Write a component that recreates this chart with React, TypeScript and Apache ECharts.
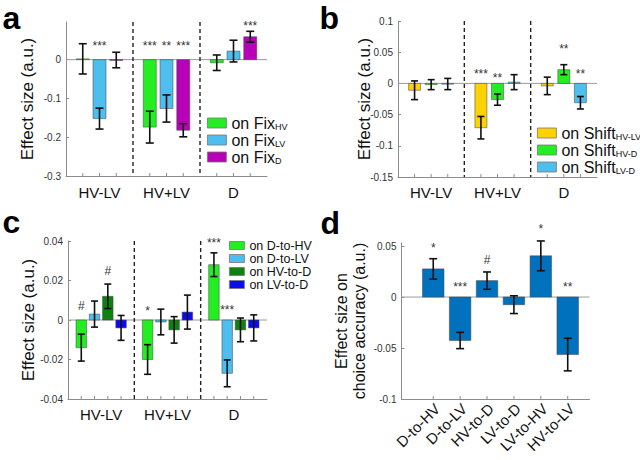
import React, { useEffect, useRef } from 'react';
import * as echarts from 'echarts';

const FONT = '"Liberation Sans", Arial, Helvetica, sans-serif';

const groupLabels = ['HV-LV', 'HV+LV', 'D'];

// ---------- panel a ----------
const yTicksA = [-0.3, -0.2, -0.1, 0];
const yMaxA = 0.097;
const fixHV = [0.002, -0.174, -0.008];
const fixHVErr = [0.039, 0.041, 0.02];
const fixHVStars = ['', '***', ''];
const fixHVStarAt = [0, 0.044, 0];
const fixLV = [-0.152, -0.126, 0.022];
const fixLVErr = [0.027, 0.035, 0.028];
const fixLVStars = ['***', '**', ''];
const fixLVStarAt = [0.044, 0.044, 0];
const fixD = [-0.001, -0.182, 0.059];
const fixDErr = [0.02, 0.017, 0.014];
const fixDStars = ['', '***', '***'];
const fixDStarAt = [0, 0.044, 0.095];

// ---------- panel b ----------
const yTicksB = [-0.15, -0.1, -0.05, 0, 0.05, 0.1];
const shiftHVLV = [-0.011, -0.071, -0.004];
const shiftHVLVErr = [0.015, 0.018, 0.014];
const shiftHVLVStars = ['', '***', ''];
const shiftHVLVStarAt = [0, 0.02, 0];
const shiftHVD = [-0.002, -0.026, 0.022];
const shiftHVDErr = [0.008, 0.009, 0.008];
const shiftHVDStars = ['', '**', '**'];
const shiftHVDStarAt = [0, 0.0135, 0.06];
const shiftLVD = [-0.001, 0.002, -0.031];
const shiftLVDErr = [0.009, 0.012, 0.01];
const shiftLVDStars = ['', '', '**'];
const shiftLVDStarAt = [0, 0, 0.02];

// ---------- panel c ----------
const yTicksC = [-0.04, -0.02, 0, 0.02, 0.04];
const dToHV = [-0.014, -0.02, 0.028];
const dToHVErr = [0.0068, 0.0075, 0.006];
const dToHVStars = ['#', '*', '***'];
const dToHVStarAt = [0.007, 0.0061, 0.0406];
const dToLV = [0.003, -0.001, -0.027];
const dToLVErr = [0.0066, 0.0065, 0.0068];
const dToLVStars = ['', '', '***'];
const dToLVStarAt = [0, 0, 0.0065];
const hvToD = [0.012, -0.005, -0.005];
const hvToDErr = [0.0062, 0.0067, 0.006];
const hvToDStars = ['#', '', ''];
const hvToDStarAt = [0.0248, 0, 0];
const lvToD = [-0.004, 0.004, -0.004];
const lvToDErr = [0.0063, 0.0086, 0.0066];
const lvToDStars = ['', '', ''];
const lvToDStarAt = [0, 0, 0];

// ---------- panel d ----------
const yTicksD = [-0.1, -0.05, 0, 0.05];
const yMaxD = 0.053;
const transLabels = ['D-to-HV', 'D-to-LV', 'HV-to-D', 'LV-to-D', 'LV-to-HV', 'HV-to-LV'];
const accEffect = [0.0276, -0.0426, 0.0161, -0.0075, 0.0404, -0.0564];
const accErr = [0.01, 0.008, 0.0085, 0.0087, 0.0146, 0.016];
const accStars = ['*', '***', '#', '', '*', '**'];
const accStarAt = [0.0509, 0.0132, 0.0368, 0, 0.0696, 0.0132];

const AXIS_COLOR = '#8c8c8c';

const fmtTick = (v: number) => String(parseFloat(v.toFixed(4)));

function yAxis(gridIndex: number, ticks: number[], max: number, name: string, nameGap: number, nameStyle: any = {}) {
  return {
    type: 'value',
    gridIndex,
    min: ticks[0],
    max,
    interval: ticks[1] - ticks[0],
    name,
    nameLocation: 'middle',
    nameGap,
    nameMoveOverlap: false,
    nameTextStyle: { fontSize: 17, color: '#111', fontFamily: FONT, ...nameStyle },
    axisLine: { show: true, onZero: false, lineStyle: { color: AXIS_COLOR, width: 1 } },
    axisTick: { show: true, inside: true, length: 3, lineStyle: { color: AXIS_COLOR } },
    axisLabel: {
      fontSize: 10,
      color: '#333',
      margin: 5,
      showMaxLabel: max === ticks[ticks.length - 1],
      fontFamily: FONT,
      formatter: fmtTick,
    },
    splitLine: { show: false },
  };
}

function valueX(gridIndex: number, min: number, max: number) {
  return {
    type: 'value',
    gridIndex,
    min,
    max,
    position: 'bottom',
    axisLine: { show: true, onZero: false, lineStyle: { color: AXIS_COLOR, width: 1 } },
    axisTick: { show: false },
    axisLabel: { show: false },
    splitLine: { show: false },
  };
}

function catX(gridIndex: number, margin: number) {
  return {
    type: 'category',
    gridIndex,
    data: groupLabels,
    position: 'bottom',
    axisLine: { show: false, onZero: false },
    axisTick: { show: false },
    axisLabel: { fontSize: 15, color: '#111', margin, fontFamily: FONT },
    splitLine: { show: false },
  };
}

type BarCfg = {
  name: string;
  xAxisIndex: number;
  yAxisIndex: number;
  positions: number[];
  values: number[];
  errs: number[];
  stars: string[];
  starAt: number[];
  color: string;
  barW: number;
  capW: number;
  yMin: number;
  xLabels?: string[];
};

function barSeries(c: BarCfg) {
  return {
    type: 'custom',
    name: c.name,
    xAxisIndex: c.xAxisIndex,
    yAxisIndex: c.yAxisIndex,
    itemStyle: { color: c.color },
    z: 3,
    silent: true,
    clip: false,
    data: c.positions.map((p, i) => [p, c.values[i], c.errs[i], c.starAt[i]]),
    renderItem: (params: any, api: any) => {
      const i = params.dataIndex;
      const x = api.value(0);
      const v = api.value(1);
      const e = api.value(2);
      const s = api.value(3);
      const base = api.coord([x, 0]);
      const top = api.coord([x, v]);
      const hi = api.coord([x, v + e]);
      const lo = api.coord([x, v - e]);
      const axisPt = api.coord([x, c.yMin]);
      const children: any[] = [
        {
          type: 'line',
          shape: { x1: axisPt[0], y1: axisPt[1], x2: axisPt[0], y2: axisPt[1] - 3 },
          style: { stroke: AXIS_COLOR, lineWidth: 1 },
        },
        {
          type: 'rect',
          shape: {
            x: base[0] - c.barW / 2,
            y: Math.min(base[1], top[1]),
            width: c.barW,
            height: Math.max(Math.abs(top[1] - base[1]), 0.8),
          },
          style: { fill: c.color, stroke: 'rgba(70,70,70,0.75)', lineWidth: 0.7 },
        },
        {
          type: 'line',
          shape: { x1: hi[0], y1: hi[1], x2: lo[0], y2: lo[1] },
          style: { stroke: '#111', lineWidth: 1.6 },
        },
        {
          type: 'line',
          shape: { x1: hi[0] - c.capW / 2, y1: hi[1], x2: hi[0] + c.capW / 2, y2: hi[1] },
          style: { stroke: '#111', lineWidth: 1.6 },
        },
        {
          type: 'line',
          shape: { x1: lo[0] - c.capW / 2, y1: lo[1], x2: lo[0] + c.capW / 2, y2: lo[1] },
          style: { stroke: '#111', lineWidth: 1.6 },
        },
      ];
      const st = c.stars[i];
      if (st) {
        const sp = api.coord([x, s]);
        children.push({
          type: 'text',
          x: sp[0],
          y: sp[1] + (st.indexOf('*') >= 0 ? 3 : 0),
          style: { text: st, fontSize: 12, fill: '#333', align: 'center', verticalAlign: 'middle', fontFamily: FONT },
        });
      }
      if (c.xLabels) {
        children.push({
          type: 'text',
          x: axisPt[0] + 4,
          y: axisPt[1] + 7,
          rotation: Math.PI / 4,
          style: { text: c.xLabels[i], fontSize: 15, fill: '#111', align: 'right', verticalAlign: 'middle', fontFamily: FONT },
        });
      }
      return { type: 'group', children };
    },
  };
}

function decorSeries(xAxisIndex: number, yAxisIndex: number, xMin: number, xMax: number, yMin: number, yMax: number, dashes: number[]) {
  return {
    type: 'custom',
    xAxisIndex,
    yAxisIndex,
    silent: true,
    z: 2,
    clip: false,
    data: [[xMin, 0]],
    renderItem: (_params: any, api: any) => {
      const a = api.coord([xMin, 0]);
      const b = api.coord([xMax, 0]);
      const children: any[] = [
        { type: 'line', shape: { x1: a[0], y1: a[1], x2: b[0], y2: b[1] }, style: { stroke: '#9a9a9a', lineWidth: 1 } },
      ];
      dashes.forEach((d) => {
        const p = api.coord([d, yMax]);
        const q = api.coord([d, yMin]);
        children.push({
          type: 'line',
          shape: { x1: p[0], y1: p[1], x2: q[0], y2: q[1] },
          style: { stroke: '#222', lineWidth: 1.4, lineDash: [4, 3] },
        });
      });
      return { type: 'group', children };
    },
  };
}

const groupPos = (k: number, n: number) => [0, 1, 2].map((g) => g + (k + 1) / (n + 1));

const C_GREEN = '#22ee22';
const C_LBLUE = '#4dbeee';
const C_MAG = '#b800b8';
const C_YEL = '#fcd200';
const C_DGREEN = '#108010';
const C_BLUE = '#0a0af5';
const C_DBLUE = '#0072bd';

const legendNames: Record<string, string> = {
  'on FixHV': '{m|on Fix}{s|HV}',
  'on FixLV': '{m|on Fix}{s|LV}',
  'on FixD': '{m|on Fix}{s|D}',
  'on ShiftHV-LV': '{m|on Shift}{s|HV-LV}',
  'on ShiftHV-D': '{m|on Shift}{s|HV-D}',
  'on ShiftLV-D': '{m|on Shift}{s|LV-D}',
};

function richLegend(left: number, top: number, data: string[]) {
  return {
    data,
    left,
    top,
    orient: 'vertical',
    icon: 'rect',
    itemWidth: 19,
    itemHeight: 10,
    itemGap: 1,
    selectedMode: false,
    padding: 0,
    itemStyle: { borderColor: '#777', borderWidth: 0.8 },
    formatter: (n: string) => legendNames[n] || n,
    textStyle: {
      color: '#111',
      fontSize: 16,
      fontFamily: FONT,
      rich: {
        m: { fontSize: 16, color: '#111', fontFamily: FONT },
        s: { fontSize: 9, color: '#111', fontFamily: FONT, verticalAlign: 'bottom' },
      },
    },
  };
}

const letter = (text: string, x: number, y: number) => ({
  type: 'text',
  x,
  y,
  style: { text, fontSize: 32, fontWeight: 'bold', fill: '#000', verticalAlign: 'top', lineHeight: 24, fontFamily: FONT },
});

function buildOption() {
  const yMinA = yTicksA[0];
  const yMinB = yTicksB[0];
  const yMinC = yTicksC[0];
  const yMinD = yTicksD[0];
  const maxB = yTicksB[yTicksB.length - 1];
  const maxC = yTicksC[yTicksC.length - 1];
  const posD = transLabels.map((_, i) => i + 1);

  return {
    animation: false,
    textStyle: { fontFamily: FONT },
    grid: [
      { left: 66, top: 22, width: 201, height: 154, outerBoundsMode: 'none', containLabel: false },
      { left: 398, top: 21, width: 199, height: 156, outerBoundsMode: 'none', containLabel: false },
      { left: 68, top: 241, width: 199, height: 158, outerBoundsMode: 'none', containLabel: false },
      { left: 401.5, top: 243, width: 188, height: 156, outerBoundsMode: 'none', containLabel: false },
    ],
    xAxis: [
      valueX(0, 0, 3),
      catX(0, 9),
      valueX(1, 0, 3),
      catX(1, 8),
      valueX(2, 0, 3),
      catX(2, 8),
      valueX(3, -0.18, 6.81),
    ],
    yAxis: [
      yAxis(0, yTicksA, yMaxA, 'Effect size (a.u.)', 30),
      yAxis(1, yTicksB, maxB, 'Effect size (a.u.)', 25),
      yAxis(2, yTicksC, maxC, 'Effect size (a.u.)', 31),
      yAxis(3, yTicksD, yMaxD, 'Effect size on\nchoice accuracy (a.u.)', 33, { fontSize: 16, lineHeight: 18 }),
    ],
    legend: [
      richLegend(207, 115, ['on FixHV', 'on FixLV', 'on FixD']),
      richLegend(537, 125, ['on ShiftHV-LV', 'on ShiftHV-D', 'on ShiftLV-D']),
      {
        data: ['on D-to-HV', 'on D-to-LV', 'on HV-to-D', 'on LV-to-D'],
        left: 229,
        top: 239,
        orient: 'vertical',
        icon: 'rect',
        itemWidth: 15,
        itemHeight: 8,
        itemGap: 0,
        padding: 0,
        selectedMode: false,
        itemStyle: { borderColor: '#777', borderWidth: 0.8 },
        textStyle: { color: '#111', fontSize: 12.5, lineHeight: 13, fontFamily: FONT },
      },
    ],
    graphic: [letter('a', 2.5, 6.3), letter('b', 319.5, 6.3), letter('c', 2.5, 209.8), letter('d', 320.5, 210.8)],
    series: [
      decorSeries(0, 0, 0, 3, yMinA, yMaxA, [1, 2]),
      decorSeries(2, 1, 0, 3, yMinB, maxB, [1, 2]),
      decorSeries(4, 2, 0, 3, yMinC, maxC, [1, 2]),
      decorSeries(6, 3, -0.18, 6.81, yMinD, yMaxD, []),
      // a
      barSeries({ name: 'on FixHV', xAxisIndex: 0, yAxisIndex: 0, positions: groupPos(0, 3), values: fixHV, errs: fixHVErr, stars: fixHVStars, starAt: fixHVStarAt, color: C_GREEN, barW: 13, capW: 8, yMin: yMinA }),
      barSeries({ name: 'on FixLV', xAxisIndex: 0, yAxisIndex: 0, positions: groupPos(1, 3), values: fixLV, errs: fixLVErr, stars: fixLVStars, starAt: fixLVStarAt, color: C_LBLUE, barW: 13, capW: 8, yMin: yMinA }),
      barSeries({ name: 'on FixD', xAxisIndex: 0, yAxisIndex: 0, positions: groupPos(2, 3), values: fixD, errs: fixDErr, stars: fixDStars, starAt: fixDStarAt, color: C_MAG, barW: 13, capW: 8, yMin: yMinA }),
      // b
      barSeries({ name: 'on ShiftHV-LV', xAxisIndex: 2, yAxisIndex: 1, positions: groupPos(0, 3), values: shiftHVLV, errs: shiftHVLVErr, stars: shiftHVLVStars, starAt: shiftHVLVStarAt, color: C_YEL, barW: 12, capW: 7, yMin: yMinB }),
      barSeries({ name: 'on ShiftHV-D', xAxisIndex: 2, yAxisIndex: 1, positions: groupPos(1, 3), values: shiftHVD, errs: shiftHVDErr, stars: shiftHVDStars, starAt: shiftHVDStarAt, color: C_GREEN, barW: 12, capW: 7, yMin: yMinB }),
      barSeries({ name: 'on ShiftLV-D', xAxisIndex: 2, yAxisIndex: 1, positions: groupPos(2, 3), values: shiftLVD, errs: shiftLVDErr, stars: shiftLVDStars, starAt: shiftLVDStarAt, color: C_LBLUE, barW: 12, capW: 7, yMin: yMinB }),
      // c
      barSeries({ name: 'on D-to-HV', xAxisIndex: 4, yAxisIndex: 2, positions: groupPos(0, 4), values: dToHV, errs: dToHVErr, stars: dToHVStars, starAt: dToHVStarAt, color: C_GREEN, barW: 10.5, capW: 7, yMin: yMinC }),
      barSeries({ name: 'on D-to-LV', xAxisIndex: 4, yAxisIndex: 2, positions: groupPos(1, 4), values: dToLV, errs: dToLVErr, stars: dToLVStars, starAt: dToLVStarAt, color: C_LBLUE, barW: 10.5, capW: 7, yMin: yMinC }),
      barSeries({ name: 'on HV-to-D', xAxisIndex: 4, yAxisIndex: 2, positions: groupPos(2, 4), values: hvToD, errs: hvToDErr, stars: hvToDStars, starAt: hvToDStarAt, color: C_DGREEN, barW: 10.5, capW: 7, yMin: yMinC }),
      barSeries({ name: 'on LV-to-D', xAxisIndex: 4, yAxisIndex: 2, positions: groupPos(3, 4), values: lvToD, errs: lvToDErr, stars: lvToDStars, starAt: lvToDStarAt, color: C_BLUE, barW: 10.5, capW: 7, yMin: yMinC }),
      // d
      barSeries({ name: 'accuracy', xAxisIndex: 6, yAxisIndex: 3, positions: posD, values: accEffect, errs: accErr, stars: accStars, starAt: accStarAt, color: C_DBLUE, barW: 21.5, capW: 8, yMin: yMinD, xLabels: transLabels }),
    ],
  };
}

export default function App() {
  const ref = useRef<HTMLDivElement>(null);
  useEffect(() => {
    if (!ref.current) return;
    const chart = echarts.init(ref.current, undefined, { renderer: 'svg' });
    chart.setOption(buildOption() as any);
    return () => chart.dispose();
  }, []);
  return (
    <div
      ref={ref}
      style={{ position: 'fixed', left: 0, top: 0, width: 640, height: 460, background: '#fff' }}
    />
  );
}
